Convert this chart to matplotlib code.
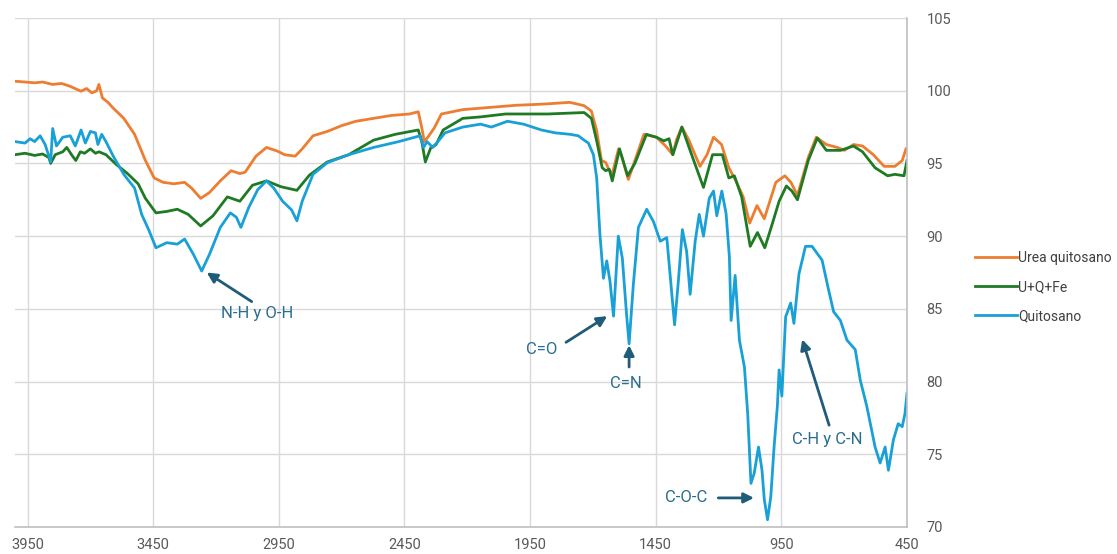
import matplotlib
matplotlib.use("Agg")
import matplotlib.pyplot as plt

# espectros FTIR (numero de onda cm-1, %T)
urea_wn = [4000, 3960, 3922, 3890, 3850, 3815, 3780, 3755, 3737, 3715, 3694, 3675, 3666, 3658,
           3652, 3630, 3609, 3567, 3524, 3481, 3446, 3410, 3368, 3325, 3297, 3261, 3226, 3183,
           3140, 3105, 3084, 3041, 2999, 2956, 2927, 2885, 2857, 2814, 2757, 2700, 2643, 2573,
           2502, 2430, 2395, 2381, 2371, 2353, 2331, 2303, 2218, 2147, 2076, 2005, 1934, 1879,
           1792, 1735, 1706, 1685, 1666, 1649, 1637, 1623, 1598, 1584, 1559, 1533, 1497, 1447,
           1411, 1382, 1368, 1346, 1318, 1274, 1246, 1220, 1188, 1159, 1131, 1102, 1076, 1047,
           1018, 972, 936, 912, 886, 843, 811, 771, 728, 699, 663, 627, 584, 541, 498, 469, 454]
urea_t = [100.65, 100.6, 100.54, 100.6, 100.43, 100.5, 100.3, 100.1, 99.97, 100.15, 99.85, 100.0,
          100.43, 99.9, 99.5, 99.2, 98.8, 98.1, 97.0, 95.2, 94.0, 93.7, 93.6, 93.7, 93.3, 92.6,
          93.0, 93.8, 94.5, 94.3, 94.4, 95.5, 96.1, 95.85, 95.6, 95.5, 96.0, 96.9, 97.2, 97.6,
          97.9, 98.1, 98.3, 98.4, 98.55, 97.45, 96.5, 96.9, 97.45, 98.4, 98.7, 98.8, 98.9, 99.0,
          99.05, 99.1, 99.2, 98.97, 98.6, 97.25, 95.2, 95.07, 94.6, 94.27, 96.0, 95.4, 93.9, 95.2,
          97.0, 96.8, 96.2, 95.6, 96.6, 97.5, 96.6, 94.8, 95.6, 96.8, 96.3, 94.7, 93.8, 92.7,
          90.9, 92.1, 91.2, 93.7, 94.15, 93.7, 92.8, 95.4, 96.8, 96.3, 96.1, 95.9, 96.3, 96.2,
          95.6, 94.8, 94.8, 95.2, 96.0]

uqfe_wn = [4000, 3960, 3922, 3890, 3865, 3858, 3840, 3810, 3794, 3775, 3758, 3740, 3723, 3700,
           3680, 3666, 3638, 3595, 3552, 3510, 3481, 3439, 3396, 3354, 3311, 3261, 3212, 3155,
           3105, 3055, 2999, 2942, 2878, 2828, 2757, 2672, 2573, 2487, 2395, 2381, 2367, 2346,
           2324, 2296, 2218, 2147, 2048, 1964, 1879, 1735, 1706, 1685, 1663, 1649, 1635, 1623,
           1594, 1562, 1533, 1487, 1447, 1418, 1397, 1382, 1346, 1303, 1260, 1224, 1185, 1159,
           1137, 1108, 1074, 1045, 1016, 987, 959, 930, 908, 886, 843, 807, 771, 714, 663, 627,
           577, 527, 498, 462, 450]
uqfe_t = [95.6, 95.7, 95.55, 95.65, 95.4, 95.0, 95.6, 95.8, 96.1, 95.6, 95.2, 95.8, 95.7, 96.0,
          95.7, 95.8, 95.6, 94.9, 94.3, 93.6, 92.6, 91.6, 91.7, 91.85, 91.5, 90.7, 91.4, 92.7,
          92.4, 93.5, 93.8, 93.4, 93.15, 94.2, 95.1, 95.6, 96.6, 97.0, 97.3, 96.5, 95.1, 96.05,
          96.3, 97.3, 98.1, 98.2, 98.4, 98.4, 98.4, 98.5, 98.1, 96.55, 94.7, 94.5, 94.6, 93.8,
          96.0, 94.15, 95.0, 97.0, 96.8, 96.55, 96.7, 95.6, 97.5, 95.4, 93.35, 95.6, 95.6, 94.0,
          94.15, 92.7, 89.3, 90.25, 89.2, 90.8, 92.4, 93.45, 93.1, 92.5, 95.2, 96.75, 95.9, 95.9,
          96.2, 95.8, 94.7, 94.15, 94.25, 94.15, 95.2]

quit_wn = [4000, 3960, 3940, 3922, 3900, 3880, 3858, 3850, 3835, 3810, 3780, 3760, 3737, 3720,
           3700, 3680, 3670, 3655, 3638, 3609, 3567, 3524, 3496, 3467, 3439, 3396, 3354, 3325,
           3290, 3257, 3226, 3183, 3143, 3119, 3101, 3070, 3034, 2999, 2970, 2935, 2899, 2878,
           2857, 2814, 2757, 2672, 2573, 2473, 2388, 2374, 2360, 2338, 2317, 2289, 2218, 2147,
           2104, 2040, 1976, 1905, 1849, 1790, 1758, 1735, 1718, 1698, 1685, 1672, 1658, 1645,
           1632, 1618, 1599, 1583, 1566, 1556, 1539, 1519, 1486, 1459, 1432, 1406, 1375, 1360,
           1344, 1327, 1313, 1293, 1277, 1260, 1237, 1220, 1207, 1187, 1170, 1157, 1150, 1134,
           1117, 1097, 1084, 1071, 1058, 1041, 1027, 1018, 1005, 992, 979, 966, 959, 948, 933,
           913, 900, 880, 854, 828, 788, 762, 742, 715, 689, 656, 636, 610, 577, 557, 537, 524,
           504, 485, 469, 458, 450]
quit_t = [96.5, 96.4, 96.7, 96.5, 96.9, 96.3, 95.1, 97.4, 96.2, 96.8, 96.9, 96.2, 97.3, 96.4,
          97.2, 97.1, 96.3, 97.0, 96.5, 95.5, 94.25, 93.3, 91.5, 90.4, 89.2, 89.55, 89.45, 89.8,
          88.75, 87.6, 88.75, 90.6, 91.6, 91.3, 90.6, 91.96, 93.2, 93.8, 93.3, 92.4, 91.8, 91.05,
          92.4, 94.25, 95.05, 95.6, 96.1, 96.5, 96.9, 96.1, 96.5, 96.1, 96.5, 97.1, 97.5, 97.7,
          97.5, 97.9, 97.7, 97.3, 97.1, 97.0, 96.9, 96.6, 96.4, 95.6, 94.0, 90.1, 87.1, 88.3,
          86.9, 84.5, 90.0, 88.5, 84.6, 82.6, 86.7, 90.6, 91.85, 91.0, 89.65, 89.9, 83.9, 86.9,
          90.45, 88.95, 86.0, 89.65, 91.5, 90.0, 92.6, 93.1, 91.4, 93.1, 91.55, 88.6, 84.2, 87.3,
          82.85, 81.0, 77.8, 73.0, 73.7, 75.5, 73.9, 71.9, 70.5, 72.1, 75.5, 78.3, 80.8, 79.0,
          84.45, 85.4, 84.0, 87.4, 89.3, 89.3, 88.35, 86.3, 84.8, 84.2, 82.85, 82.2, 80.1, 78.3,
          75.5, 74.4, 75.5, 73.9, 76.0, 77.1, 76.9, 77.8, 79.2]

series_names = ["Urea quitosano", "U+Q+Fe", "Quitosano"]
x_ticks = [3950, 3450, 2950, 2450, 1950, 1450, 950, 450]
y_ticks = [70, 75, 80, 85, 90, 95, 100, 105]

# etiquetas de bandas: texto, posicion del texto, cola y punta de la flecha
bands = [
    ("N-H y O-H", (3038, 84.7), (3058, 85.5), (3237, 87.5)),
    ("C=O", (1902, 82.2), (1807, 82.7), (1643, 84.5)),
    ("C=N", (1568, 79.9), (1556, 81.0), (1556, 82.5)),
    ("C-O-C", (1328, 72.0), (1201, 72.0), (1059, 72.0)),
    ("C-H y C-N", (767, 76.0), (760, 77.0), (867, 82.9)),
]

FONT = ["Roboto", "DejaVu Sans"]


def generate_plot():
    plt.rcParams['font.family'] = FONT
    fig = plt.figure(figsize=(11.17, 5.54), dpi=100)
    ax = fig.add_axes([15 / 1117, 27 / 554, 892 / 1117, 509 / 554])

    ax.plot(urea_wn, urea_t, color='#ED7D31', linewidth=2, label=series_names[0])
    ax.plot(uqfe_wn, uqfe_t, color='#1F7A24', linewidth=2, label=series_names[1])
    ax.plot(quit_wn, quit_t, color='#18A0D7', linewidth=2, label=series_names[2])

    ax.set_xlim(4000, 450)
    ax.set_ylim(70, 105)
    ax.set_xticks(x_ticks)
    ax.set_yticks(y_ticks)
    ax.yaxis.tick_right()
    ax.grid(True, color='#D9D9D9', linewidth=1)
    ax.set_axisbelow(True)
    ax.tick_params(axis='both', length=0, labelsize=10.5, labelcolor='#595959')
    ax.tick_params(axis='y', pad=14)
    ax.tick_params(axis='x', pad=8)
    for side in ['left', 'top']:
        ax.spines[side].set_visible(False)
    for side in ['right', 'bottom']:
        ax.spines[side].set_color('#BFBFBF')
        ax.spines[side].set_linewidth(1.2)

    for txt, pos, tail, head in bands:
        ax.text(pos[0], pos[1], txt, color='#2A6D8F', fontsize=12,
                ha='center', va='center')
        ax.annotate('', xy=head, xytext=tail,
                    arrowprops=dict(arrowstyle='-|>,head_length=0.6,head_width=0.3',
                                    color='#1F5C7A', lw=2, shrinkA=0, shrinkB=0))

    fig.legend(loc='center left', bbox_to_anchor=(968 / 1117, 1 - 287 / 554),
               frameon=False, fontsize=10, handlelength=3.0, handletextpad=0.1,
               labelspacing=1.1, borderpad=0, labelcolor='#404040')
    fig.savefig('out.png', dpi=100)


def main():
    generate_plot()


if __name__ == '__main__':
    main()
